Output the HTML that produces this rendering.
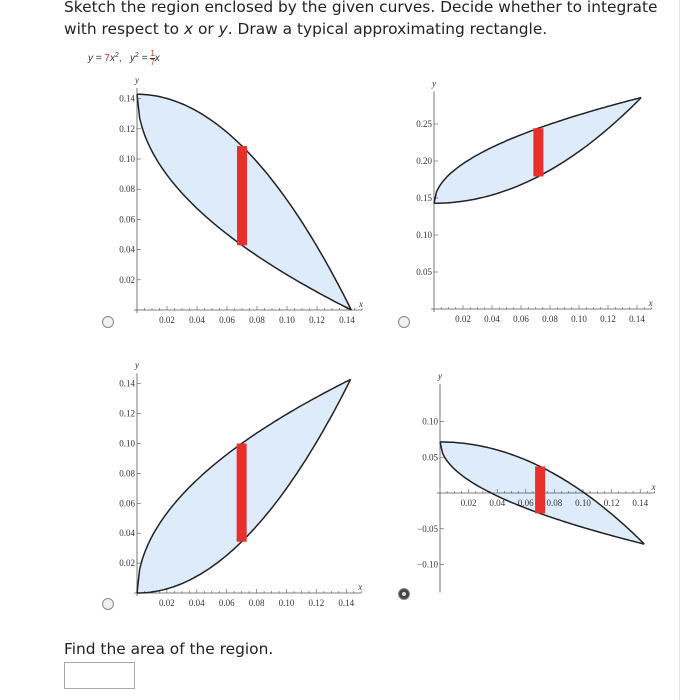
<!DOCTYPE html>
<html><head><meta charset="utf-8">
<style>
body{margin:0;background:#fff;width:687px;height:700px;overflow:hidden;font-family:"DejaVu Sans",sans-serif;}
.t{position:absolute;left:64px;font-size:15.4px;color:#222;white-space:nowrap}
svg text{font-family:"Liberation Serif",serif;font-size:9px;fill:#333}
</style></head><body>
<div class="t" style="top:-2px">Sketch the region enclosed by the given curves. Decide whether to integrate</div>
<div class="t" style="top:20px">with respect to <i>x</i> or <i>y</i>. Draw a typical approximating rectangle.</div>
<div style="position:absolute;left:88px;top:50px;font-size:10px;color:#333;font-family:'Liberation Sans',sans-serif"><i>y</i> = <span style="color:#c33">7</span><i>x</i><sup style="font-size:7px">2</sup>, &nbsp; <i>y</i><sup style="font-size:7px">2</sup> = <span style="display:inline-block;vertical-align:middle;text-align:center;font-size:8px;line-height:8px"><span style="color:#c33;border-bottom:1px solid #333;display:block">1</span><span style="color:#c33">7</span></span><i>x</i></div>
<svg id="s" width="687" height="700" style="position:absolute;left:0;top:0"></svg>
<div class="t" style="top:640px">Find the area of the region.</div>
<div style="position:absolute;left:64px;top:662px;width:69px;height:25px;border:1px solid #aaa"></div>
<div style="position:absolute;left:679px;top:0;width:1px;height:700px;background:#e4e4e4"></div>
<script>
const xTicks=[0.02,0.04,0.06,0.08,0.10,0.12,0.14];
const yTicks1=[0.02,0.04,0.06,0.08,0.10,0.12,0.14];
const yTicks2=[0.05,0.10,0.15,0.20,0.25];
const yTicks3=[0.02,0.04,0.06,0.08,0.10,0.12,0.14];
const yTicks4=[-0.10,-0.05,0.05,0.10];
const offsets=[0.142857,0.142857,0,0.0714];
const rectX=[0.070,0.072,0.070,0.070];
const radioSel=[false,false,false,true];
const charts=[
 {ox:137,oy:310,sx:1500,sy:1510,yt:yTicks1,up:x=>offsets[0]-7*x*x,lo:x=>offsets[0]-Math.sqrt(x/7),ymin:0,ymax:0.145,r:[108,322]},
 {ox:434,oy:309,sx:1450,sy:740,yt:yTicks2,up:x=>offsets[1]+Math.sqrt(x/7),lo:x=>offsets[1]+7*x*x,ymin:0,ymax:0.29,r:[404,322]},
 {ox:137,oy:593,sx:1495,sy:1495,yt:yTicks3,up:x=>offsets[2]+Math.sqrt(x/7),lo:x=>offsets[2]+7*x*x,ymin:0,ymax:0.145,r:[108,604]},
 {ox:440,oy:493,sx:1430,sy:715,yt:yTicks4,up:x=>offsets[3]-7*x*x,lo:x=>offsets[3]-Math.sqrt(x/7),ymin:-0.135,ymax:0.148,r:[404,594]}
];
const s=document.getElementById('s');const NS='http://www.w3.org/2000/svg';
function mk(t,a,p){const e=document.createElementNS(NS,t);for(const k in a)e.setAttribute(k,a[k]);(p||s).appendChild(e);return e;}
charts.forEach((c,i)=>{
 const g=mk('g',{});
 
 
 const X=v=>c.ox+v*c.sx, Y=v=>c.oy-v*c.sy, xe=1/7;
 let up=[],lo=[];
 for(let k=0;k<=80;k++){const x=xe*k/80;up.push(X(x).toFixed(1)+','+Y(c.up(x)).toFixed(1));lo.push(X(x).toFixed(1)+','+Y(c.lo(x)).toFixed(1));}
 const reg=mk('polygon',{points:up.concat(lo.slice().reverse()).join(' '),fill:'#ddebfb',stroke:'none'},g);
 
 
 mk('line',{x1:c.ox,y1:Y(c.ymin)+3,x2:c.ox,y2:Y(c.ymax)-3,stroke:'#555','stroke-width':0.8},g);
 mk('line',{x1:c.ox-3,y1:c.oy,x2:X(0.15),y2:c.oy,stroke:'#555','stroke-width':0.8},g);
 for(let k=1;k<=30;k++){const x=k*0.005;mk('line',{x1:X(x),y1:c.oy,x2:X(x),y2:c.oy-(k%4==0?4:2),stroke:'#555','stroke-width':0.6},g);}
 xTicks.forEach(v=>{const t=mk('text',{x:X(v),y:c.oy+13,'text-anchor':'middle'},g);t.textContent=v.toFixed(2);});
 c.yt.forEach(v=>{mk('line',{x1:c.ox,y1:Y(v),x2:c.ox+4,y2:Y(v),stroke:'#555','stroke-width':0.6},g);const t=mk('text',{x:c.ox-2,y:Y(v)+3,'text-anchor':'end'},g);t.textContent=(v<0?'\u2212':'')+Math.abs(v).toFixed(2);});
 const yl=mk('text',{x:c.ox-2,y:Y(c.ymax)-8,'font-style':'italic'},g);yl.textContent='y';
 const xl=mk('text',{x:X(0.148),y:c.oy-3,'font-style':'italic'},g);xl.textContent='x';
 mk('polyline',{points:up.join(' '),fill:'none',stroke:'#222','stroke-width':1.5},g);
 mk('polyline',{points:lo.join(' '),fill:'none',stroke:'#222','stroke-width':1.5},g);
 const rx=rectX[i],yt=c.up(rx),yb=c.lo(rx);
 const r=mk('rect',{x:X(rx)-5,y:Y(Math.max(yt,yb)),width:10,height:Math.abs(yt-yb)*c.sy,fill:'#e8302a'},g);
 
 
 const rb=mk('circle',{cx:c.r[0],cy:c.r[1],r:5.5,fill:radioSel[i]?'#444':'#f0f0f0',stroke:'#888','stroke-width':1});
 
 
 if(radioSel[i])mk('circle',{cx:c.r[0],cy:c.r[1],r:2,fill:'#ddd'});
});
</script>
</body></html>
